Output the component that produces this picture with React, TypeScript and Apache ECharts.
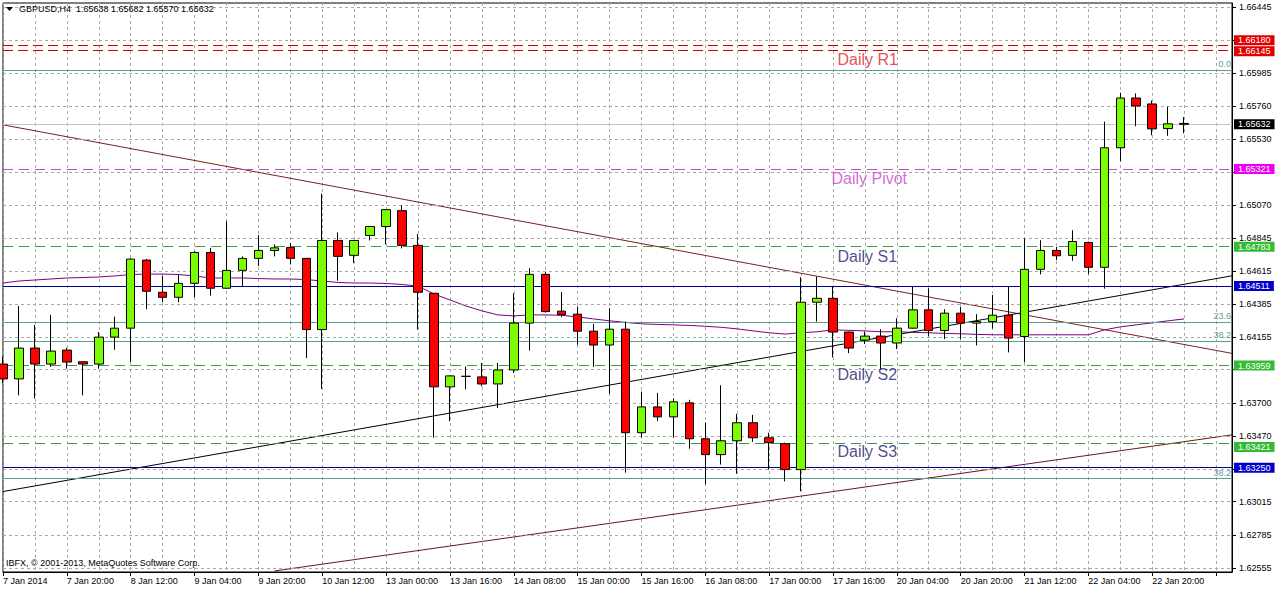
import React, { useEffect, useRef } from "react";
import * as echarts from "echarts";

const FONT = "Liberation Sans, Arial, DejaVu Sans, sans-serif";

const categories = [
  "7 Jan 2014", "7 Jan 08:00", "7 Jan 12:00", "7 Jan 16:00", "7 Jan 20:00",
  "8 Jan 00:00", "8 Jan 04:00", "8 Jan 08:00", "8 Jan 12:00", "8 Jan 16:00", "8 Jan 20:00",
  "9 Jan 00:00", "9 Jan 04:00", "9 Jan 08:00", "9 Jan 12:00", "9 Jan 16:00", "9 Jan 20:00",
  "10 Jan 00:00", "10 Jan 04:00", "10 Jan 08:00", "10 Jan 12:00", "10 Jan 16:00", "10 Jan 20:00",
  "12 Jan 20:00", "13 Jan 00:00", "13 Jan 04:00", "13 Jan 08:00", "13 Jan 12:00", "13 Jan 16:00", "13 Jan 20:00",
  "14 Jan 00:00", "14 Jan 04:00", "14 Jan 08:00", "14 Jan 12:00", "14 Jan 16:00", "14 Jan 20:00",
  "15 Jan 00:00", "15 Jan 04:00", "15 Jan 08:00", "15 Jan 12:00", "15 Jan 16:00", "15 Jan 20:00",
  "16 Jan 00:00", "16 Jan 04:00", "16 Jan 08:00", "16 Jan 12:00", "16 Jan 16:00", "16 Jan 20:00",
  "17 Jan 00:00", "17 Jan 04:00", "17 Jan 08:00", "17 Jan 12:00", "17 Jan 16:00", "17 Jan 20:00",
  "19 Jan 20:00", "20 Jan 00:00", "20 Jan 04:00", "20 Jan 08:00", "20 Jan 12:00", "20 Jan 16:00", "20 Jan 20:00",
  "21 Jan 00:00", "21 Jan 04:00", "21 Jan 08:00", "21 Jan 12:00", "21 Jan 16:00", "21 Jan 20:00",
  "22 Jan 00:00", "22 Jan 04:00", "22 Jan 08:00", "22 Jan 12:00", "22 Jan 16:00", "22 Jan 20:00",
  "23 Jan 00:00", "23 Jan 04:00",
  "", " ", "  ",
];

const opens = [
  1.63969, 1.63866, 1.6408, 1.63969, 1.64066, 1.63985, 1.63969, 1.64156, 1.64218, 1.6469,
  1.64467, 1.64432, 1.64529, 1.64743, 1.64495, 1.64619, 1.64702, 1.64757, 1.64778, 1.64702,
  1.64208, 1.64826, 1.64723, 1.64861, 1.64923, 1.65033, 1.64792, 1.6446, 1.63811, 1.63884,
  1.6388, 1.63831, 1.63928, 1.64253, 1.64591, 1.64336, 1.64315, 1.64197, 1.64101, 1.64211,
  1.63493, 1.63672, 1.63603, 1.637, 1.63451, 1.63341, 1.63437, 1.63562, 1.63458, 1.63417,
  1.63237, 1.64398, 1.64425, 1.64191, 1.64135, 1.64163, 1.64115, 1.64218, 1.64345, 1.64202,
  1.64322, 1.64253, 1.64264, 1.64308, 1.6416, 1.64626, 1.64757, 1.64723, 1.64812, 1.6464,
  1.65469, 1.65814, 1.65773, 1.65602, 1.65638,
];
const highs = [
  1.64022, 1.64372, 1.64241, 1.6431, 1.64082, 1.63985, 1.64191, 1.64298, 1.64702, 1.64697,
  1.6458, 1.64591, 1.6475, 1.64775, 1.6496, 1.64716, 1.64863, 1.64799, 1.64808, 1.64705,
  1.65151, 1.64881, 1.6483, 1.64925, 1.65042, 1.6507, 1.6487, 1.64462, 1.6389, 1.63953,
  1.63976, 1.63976, 1.6446, 1.64633, 1.64607, 1.64469, 1.64367, 1.64248, 1.64356, 1.64264,
  1.63778, 1.63769, 1.63732, 1.63721, 1.63564, 1.63822, 1.63624, 1.63617, 1.63493, 1.63424,
  1.64571, 1.64575, 1.6451, 1.64195, 1.64195, 1.64211, 1.64287, 1.64506, 1.64495, 1.64349,
  1.64367, 1.64315, 1.64448, 1.6451, 1.6484, 1.64828, 1.64782, 1.64897, 1.64819, 1.6565,
  1.65851, 1.65846, 1.65796, 1.65754, 1.65682,
];
const lows = [
  1.63838, 1.63752, 1.6373, 1.63949, 1.63937, 1.63752, 1.63937, 1.64068, 1.63983, 1.64349,
  1.64398, 1.64398, 1.64432, 1.64443, 1.6449, 1.6451, 1.64649, 1.64716, 1.6466, 1.64011,
  1.63797, 1.64547, 1.64671, 1.64826, 1.64799, 1.64771, 1.64208, 1.63458, 1.63573, 1.63794,
  1.63815, 1.63665, 1.63907, 1.64063, 1.64326, 1.64294, 1.64103, 1.63949, 1.63762, 1.63216,
  1.63458, 1.63573, 1.63458, 1.63382, 1.63135, 1.63272, 1.63209, 1.6343, 1.63237, 1.63156,
  1.63087, 1.64264, 1.64015, 1.64045, 1.64108, 1.63935, 1.64073, 1.64215, 1.6416, 1.64142,
  1.64142, 1.64098, 1.64215, 1.6405, 1.63981, 1.64591, 1.6469, 1.64685, 1.64593, 1.64492,
  1.65376, 1.65618, 1.65556, 1.65552, 1.6557,
];
const closes = [
  1.63866, 1.6408, 1.63969, 1.64059, 1.63983, 1.63969, 1.64156, 1.64218, 1.64697, 1.64474,
  1.64432, 1.64529, 1.64743, 1.64495, 1.64619, 1.64702, 1.64757, 1.64775, 1.64702, 1.64208,
  1.64826, 1.64716, 1.64826, 1.64923, 1.6504, 1.64792, 1.64467, 1.63811, 1.63887, 1.63884,
  1.63831, 1.63928, 1.64253, 1.64591, 1.64333, 1.64312, 1.64197, 1.64101, 1.64211, 1.63493,
  1.63672, 1.63603, 1.63707, 1.63451, 1.63341, 1.63437, 1.63562, 1.63458, 1.63424, 1.63237,
  1.64398, 1.64425, 1.64191, 1.6408, 1.64163, 1.64115, 1.64218, 1.64345, 1.64202, 1.64322,
  1.64253, 1.64264, 1.64308, 1.64149, 1.64626, 1.64757, 1.6472, 1.64819, 1.6464, 1.65469,
  1.65814, 1.65759, 1.656, 1.65635, 1.65632,
];

const maValues = [
  1.64531, 1.64545, 1.64552, 1.64559, 1.64566, 1.64569, 1.64573, 1.6458, 1.6459, 1.64593,
  1.64593, 1.6459, 1.6458, 1.64566, 1.64566, 1.64566, 1.64562, 1.64559, 1.64559, 1.64555,
  1.64545, 1.64535, 1.64531, 1.64531, 1.64528, 1.64521, 1.6451, 1.64455, 1.64414, 1.64372,
  1.64338, 1.6431, 1.64303, 1.6431, 1.6431, 1.64307, 1.64296, 1.64282, 1.64269, 1.64258,
  1.64248, 1.64244, 1.64241, 1.64237, 1.64231, 1.64224, 1.64213, 1.64199, 1.64186, 1.64177,
  1.64186, 1.64193, 1.64206, 1.64203, 1.64199, 1.64193, 1.64193, 1.64189, 1.64186, 1.64182,
  1.64179, 1.64175, 1.64172, 1.64172, 1.64172, 1.64172, 1.64172, 1.64172, 1.64172, 1.64206,
  1.64227, 1.64241, 1.64255, 1.64269, 1.64282,
];

// trend lines: [startBar, startPrice, endBar, endPrice]
const trendDown = [0, 1.65628, 77, 1.64043];
const trendUp = [0, 1.63085, 77, 1.64581];
const trendLow = [17, 1.62534, 77, 1.63478];

const priceTicks = [
  1.66445, 1.66215, 1.65985, 1.6576, 1.6553, 1.653, 1.6507, 1.64845, 1.64615,
  1.64385, 1.64155, 1.6393, 1.637, 1.6347, 1.6324, 1.63015, 1.62785, 1.62555,
];
const priceLabels = [
  1.66445, 1.65985, 1.6576, 1.6553, 1.6507, 1.64845, 1.64615, 1.64385,
  1.64155, 1.637, 1.6347, 1.63015, 1.62785, 1.62555,
];

const levelValues = [1.6618, 1.66145, 1.65321, 1.64783, 1.64511, 1.63959, 1.63421, 1.6325];
const fibValues = [1.6601, 1.64262, 1.6413, 1.63177];
const fibNames = ["0.0", "23.6", "38.2", "38.2"];
const bidPrice = 1.65632;

const pivotNames = ["Daily R1", "Daily Pivot", "Daily S1", "Daily S2", "Daily S3"];
const pivotNamePrices = [1.66079, 1.65257, 1.64718, 1.63896, 1.63363];
const pivotNameBar = 52;

const titleText = "GBPUSD,H4  1.65638 1.65682 1.65570 1.65632";
const copyrightText = "IBFX, \u00a9 2001-2013, MetaQuotes Software Corp.";

// styles
const GRID_COLOR = "#a8a8a8";
const levelStyles = [
  { line: "#d40000", type: [10, 5], bg: "#e00000", dy: -5 },
  { line: "#d40000", type: [10, 5], bg: "#e00000", dy: 1 },
  { line: "#d040d0", type: [10, 6], bg: "#ee00ee", dy: 0 },
  { line: "#3c9a3c", type: [10, 6], bg: "#33bb33", dy: 0 },
  { line: "#000099", type: "solid", bg: "#0000cc", dy: 0 },
  { line: "#3c9a3c", type: [10, 6], bg: "#33bb33", dy: 0 },
  { line: "#3c9a3c", type: [10, 6], bg: "#33bb33", dy: 4 },
  { line: "#000099", type: "solid", bg: "#0000cc", dy: 0 },
];
const pivotNameColors = ["#e02020", "#cc44cc", "#1c1c70", "#1c1c70", "#1c1c70"];
const pivotNameShift = [4, -2, 4, 4, 4];

const FIRST = 0;
const LAST = categories.length - 1;

function trendData(t: number[]) {
  const arr: (number | null)[] = categories.map(() => null);
  arr[t[0]] = t[1];
  arr[t[2]] = t[3];
  return arr;
}

function hLine(v: number, lineStyle: any, label: any) {
  return [
    { coord: [FIRST, v], lineStyle, label },
    { coord: [LAST, v] },
  ];
}

export default function App() {
  const ref = useRef<HTMLDivElement>(null);

  useEffect(() => {
    if (!ref.current) return;
    const chart = echarts.init(ref.current, undefined, { renderer: "svg" });

    const candleData = opens.map((o, i) => [o, closes[i], lows[i], highs[i]]);

    const marks: any[] = [];
    priceTicks.forEach((v) => {
      marks.push(
        hLine(v, { color: GRID_COLOR, type: [3, 3], width: 1 }, { show: false })
      );
    });
    fibValues.forEach((v, i) => {
      marks.push(
        hLine(
          v,
          { color: "#5aa08c", type: "solid", width: 1 },
          {
            show: true,
            position: "insideEndTop",
            distance: 1,
            formatter: fibNames[i],
            color: "#6a9e9a",
            fontSize: 9,
            fontFamily: FONT,
          }
        )
      );
    });
    marks.push(
      hLine(
        bidPrice,
        { color: "#c4c4c4", type: "solid", width: 1 },
        {
          show: true,
          position: "end",
          distance: 2,
          formatter: bidPrice.toFixed(5),
          color: "#ffffff",
          backgroundColor: "#000000",
          padding: [1, 4, 0, 4],
          fontSize: 9,
          fontFamily: FONT,
        }
      )
    );
    levelValues.forEach((v, i) => {
      marks.push(
        hLine(
          v,
          { color: levelStyles[i].line, type: levelStyles[i].type, width: 1 },
          {
            show: true,
            position: "end",
            distance: 2,
            offset: [0, levelStyles[i].dy],
            formatter: v.toFixed(5),
            color: "#ffffff",
            backgroundColor: levelStyles[i].bg,
            padding: [1, 4, 0, 4],
            fontSize: 9,
            fontFamily: FONT,
          }
        )
      );
    });

    const option: any = {
      animation: false,
      backgroundColor: "#ffffff",
      grid: {
        left: 3,
        top: 3,
        width: 1229,
        height: 569,
        show: true,
        borderColor: "#000000",
        borderWidth: 1,
        backgroundColor: "transparent",
      },
      xAxis: {
        type: "category",
        data: categories,
        boundaryGap: false,
        axisLine: { show: true, lineStyle: { color: "#000000", width: 1 } },
        axisTick: { show: true, interval: 3, length: 4, lineStyle: { color: "#000000" } },
        axisLabel: {
          interval: 3,
          align: "left",
          color: "#000000",
          fontSize: 9,
          fontFamily: FONT,
          margin: 4,
        },
        splitLine: {
          show: true,
          interval: 1,
          lineStyle: { color: GRID_COLOR, type: [3, 3], width: 1 },
        },
      },
      yAxis: {
        type: "value",
        position: "right",
        min: 1.62527,
        max: 1.66473,
        scale: true,
        axisLine: { show: true, lineStyle: { color: "#000000", width: 1 } },
        axisTick: {
          show: true,
          length: 4,
          customValues: priceTicks,
          lineStyle: { color: "#000000" },
        },
        axisLabel: {
          customValues: priceLabels,
          formatter: (v: number) => v.toFixed(5),
          color: "#000000",
          fontSize: 9,
          fontFamily: FONT,
          margin: 7,
        },
        splitLine: { show: false },
      },
      graphic: [
        {
          type: "polygon",
          shape: { points: [[6, 7], [13, 7], [9.5, 11]] },
          style: { fill: "#000000" },
          z: 100,
        },
        {
          type: "text",
          left: 19,
          top: 4,
          style: { text: titleText, fill: "#000000", font: `9px ${FONT}` },
          z: 100,
        },
        {
          type: "text",
          left: 6,
          top: 558,
          style: { text: copyrightText, fill: "#000000", font: `9px ${FONT}` },
          z: 100,
        },
      ],
      series: [
        {
          name: "MA",
          type: "line",
          data: maValues,
          symbol: "none",
          z: 2,
          lineStyle: { color: "#800080", width: 1 },
          markLine: {
            silent: true,
            symbol: ["none", "none"],
            animation: false,
            data: marks,
          },
        },
        {
          name: "trendDown",
          type: "line",
          data: trendData(trendDown),
          connectNulls: true,
          symbol: "none",
          z: 3,
          lineStyle: { color: "#7a2020", width: 1 },
        },
        {
          name: "trendUp",
          type: "line",
          data: trendData(trendUp),
          connectNulls: true,
          symbol: "none",
          z: 3,
          lineStyle: { color: "#000000", width: 1 },
        },
        {
          name: "trendLow",
          type: "line",
          data: trendData(trendLow),
          connectNulls: true,
          symbol: "none",
          z: 3,
          lineStyle: { color: "#6a1818", width: 1 },
        },
        {
          name: "GBPUSD",
          type: "candlestick",
          data: candleData,
          barWidth: 9,
          z: 5,
          itemStyle: {
            color: "#7cfc00",
            color0: "#ff0000",
            borderColor: "#000000",
            borderColor0: "#000000",
            borderColorDoji: "#000000",
            borderWidth: 1,
          },
        },
        {
          name: "pivotNames",
          type: "scatter",
          symbolSize: 1,
          z: 6,
          silent: true,
          itemStyle: { color: "rgba(0,0,0,0)" },
          data: pivotNames.map((n, i) => ({
            value: [pivotNameBar, pivotNamePrices[i]],
            name: n,
            label: {
              show: true,
              position: "right",
              distance: pivotNameShift[i],
              formatter: n,
              color: pivotNameColors[i],
              fontSize: 16,
              fontFamily: FONT,
            },
          })),
        },
      ],
    };

    chart.setOption(option);
    return () => chart.dispose();
  }, []);

  return (
    <div
      ref={ref}
      style={{ position: "fixed", left: 0, top: 0, width: 1276, height: 589, background: "#fff" }}
    />
  );
}
